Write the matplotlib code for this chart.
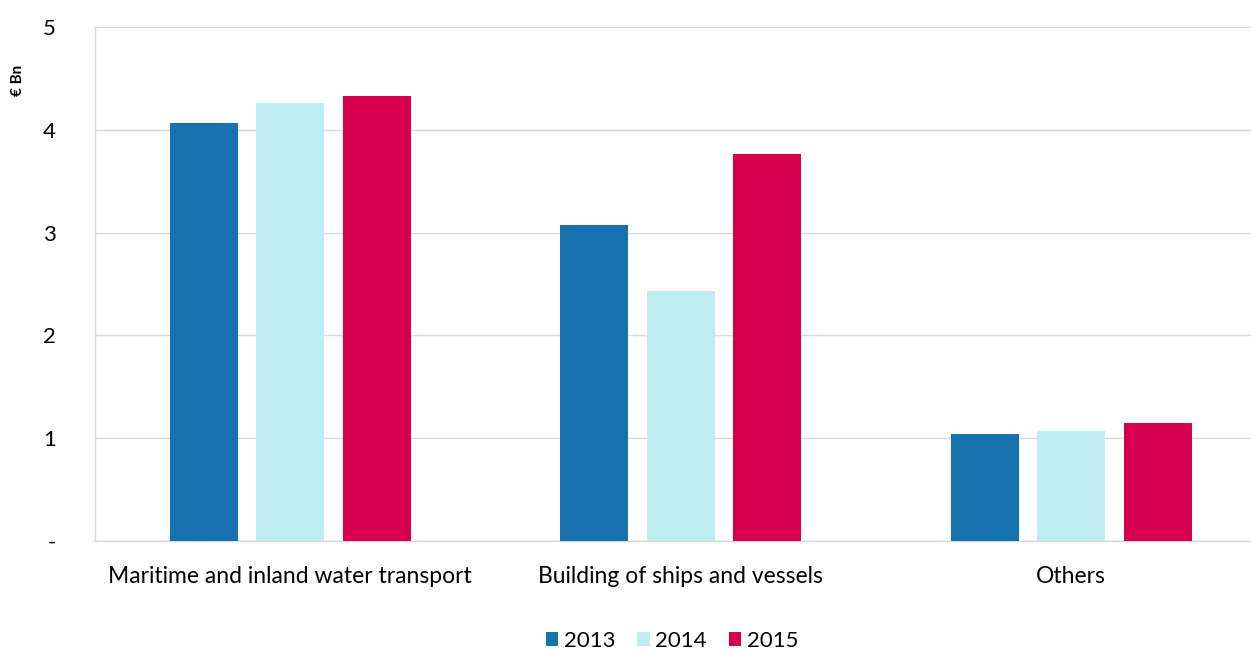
import numpy as np
import matplotlib.pyplot as plt
from matplotlib.ticker import FuncFormatter

# Chart data
categories = ['Maritime and inland water transport', 'Building of ships and vessels', 'Others']
years = ['2013', '2014', '2015']
values_2013 = [4.07, 3.07, 1.04]
values_2014 = [4.26, 2.43, 1.07]
values_2015 = [4.33, 3.76, 1.15]

colors = ['#1572AE', '#BFECF0', '#D6004F']

plt.rcParams['font.family'] = ['Lato', 'DejaVu Sans']

fig = plt.figure(figsize=(12.51, 6.51), dpi=100)
ax = fig.add_axes([95 / 1251, 1 - 541 / 651, 1 - 95 / 1251, (541 - 27) / 651])

x = np.arange(len(categories))
width = 0.174
step = 0.2215
for i, (vals, year) in enumerate(zip([values_2013, values_2014, values_2015], years)):
    ax.bar(x + (i - 1) * step, vals, width, color=colors[i], label=year, zorder=3)

ax.set_xlim(-0.5, -0.5 + 1156 / 390.5)
ax.set_ylim(0, 5)
ax.set_yticks([0, 1, 2, 3, 4, 5])
ax.yaxis.set_major_formatter(FuncFormatter(lambda v, p: '-' if v == 0 else f'{v:.0f}'))
ax.grid(axis='y', color='#D9D9D9', linewidth=1, zorder=0)

ax.set_xticks(x)
ax.set_xticklabels(categories, fontsize=16.5)
ax.tick_params(axis='y', labelsize=16, length=0, pad=28)
ax.tick_params(axis='x', length=0, pad=18)

for s in ['top', 'right']:
    ax.spines[s].set_visible(False)
for s in ['left', 'bottom']:
    ax.spines[s].set_color('#D9D9D9')
    ax.spines[s].set_linewidth(1)

fig.text(18 / 1251, 1 - 80 / 651, '€ Bn', rotation=90, ha='center', va='center',
         fontsize=11, fontweight='bold')

fig.legend(loc='center', bbox_to_anchor=(672 / 1251, 1 - 641 / 651), ncol=3,
           frameon=False, fontsize=16, handlelength=0.55, handleheight=0.55,
           handletextpad=0.25, columnspacing=1.0)

fig.savefig('out.png', dpi=100)
